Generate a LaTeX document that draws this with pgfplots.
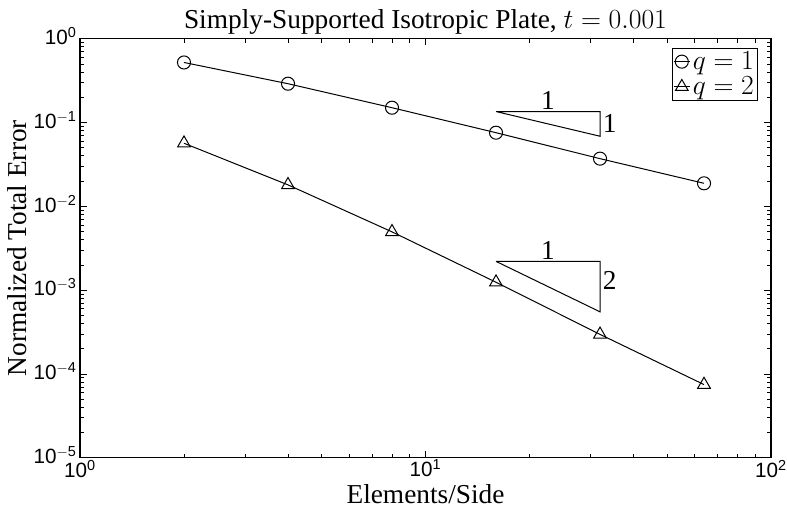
\documentclass[border=0pt]{standalone}
\usepackage{fontspec}
\setmainfont{Liberation Serif}
\setsansfont{Liberation Sans}
\usepackage{pgfplots}
\pgfplotsset{compat=1.18}
\begin{document}
\begin{tikzpicture}
\begin{loglogaxis}[
  scale only axis,
  width=518.25pt, height=314.25pt,
  xmin=1, xmax=100, ymin=1e-5, ymax=1,
  xtick={1,10,100},
  xticklabels={10\textsuperscript{0},10\textsuperscript{1},10\textsuperscript{2}},
  ytick={1e-5,1e-4,1e-3,1e-2,1e-1,1},
  yticklabels={10\textsuperscript{$-$5},10\textsuperscript{$-$4},10\textsuperscript{$-$3},10\textsuperscript{$-$2},10\textsuperscript{$-$1},10\textsuperscript{0}},
  ticklabel style={font=\sffamily\fontsize{15.5}{17}\selectfont},
  xticklabel style={yshift=-0.5pt, inner sep=1pt},
  yticklabel style={xshift=1pt, yshift=2pt},
  tick align=inside,
  xtick pos=both, ytick pos=both,
  major tick length=5pt, minor tick length=3pt,
  every tick/.style={black, line width=0.5pt},
  axis line style={line width=0.8pt},
  title={Simply-Supported Isotropic Plate, $t = 0.001$},
  title style={font=\fontsize{20.5}{22}\selectfont, yshift=-6pt},
  xlabel={Elements/Side},
  ylabel={Normalized Total Error},
  label style={font=\fontsize{20.5}{22}\selectfont},
  xlabel style={yshift=-3pt, inner sep=1pt},
  ylabel style={yshift=-2pt},
  legend style={at={(1,1)}, anchor=north east, xshift=-10pt, yshift=-7pt,
    font=\fontsize{20.5}{22}\selectfont, inner sep=0.5pt, row sep=0pt,
    draw=black, line width=0.6pt},
  legend cell align=left,
  legend image code/.code={\draw[mark repeat=2,mark phase=2,#1] plot coordinates {(0pt,0pt)(6pt,0pt)(12pt,0pt)};},
]
\addplot[black, line width=0.75pt, mark=o, mark size=4.9pt, mark options={solid, line width=0.75pt}]
  coordinates {(2,0.52) (4,0.29) (8,0.150) (16,0.0755) (32,0.037) (64,0.0188)};
\addlegendentry{$q = 1$}
\addplot[black, line width=0.75pt, mark=triangle, mark size=5.5pt, mark options={solid, line width=0.75pt}]
  coordinates {(2,0.0565) (4,0.0180) (8,0.00495) (16,0.00124) (32,0.000296) (64,0.0000745)};
\addlegendentry{$q = 2$}
\addplot[black, line width=0.75pt, forget plot] coordinates {(16,0.135) (32,0.135) (32,0.0685) (16,0.135)};
\addplot[black, line width=0.75pt, forget plot] coordinates {(16,0.0022) (32,0.0022) (32,0.00055) (16,0.0022)};
\node[font=\fontsize{20.5}{22}\selectfont, anchor=south, inner sep=1pt] at (axis cs:22.6,0.135) {1};
\node[font=\fontsize{20.5}{22}\selectfont, anchor=west, inner sep=2pt] at (axis cs:32,0.097) {1};
\node[font=\fontsize{20.5}{22}\selectfont, anchor=south, inner sep=1pt] at (axis cs:22.6,0.0022) {1};
\node[font=\fontsize{20.5}{22}\selectfont, anchor=west, inner sep=2pt] at (axis cs:32,0.00129) {2};
\end{loglogaxis}
\pgfresetboundingbox
\path (current axis.south west)+(-60pt,-42pt) rectangle ([shift={(12pt,29pt)}]current axis.north east);
\end{tikzpicture}
\end{document}
